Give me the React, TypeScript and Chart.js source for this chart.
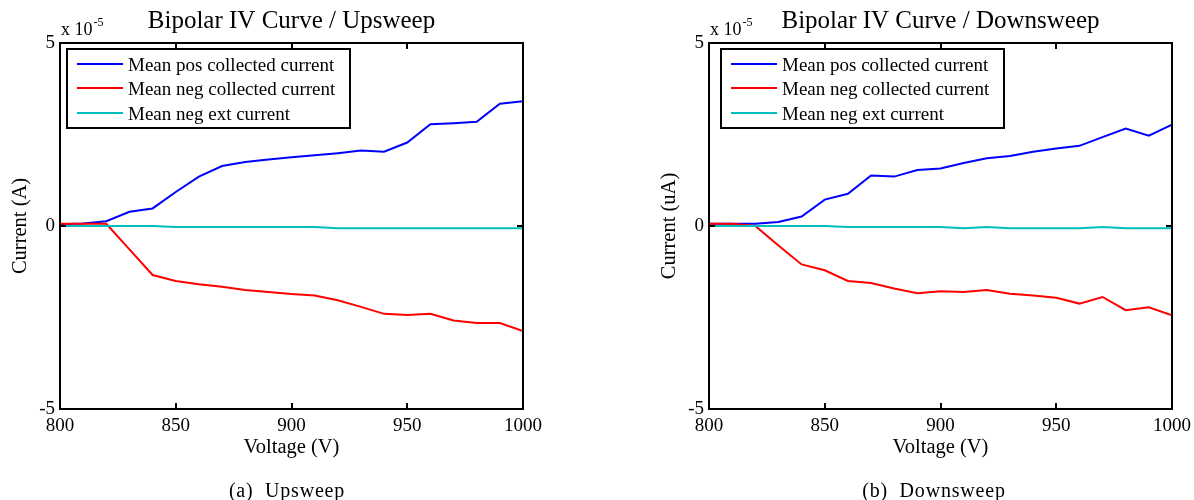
import React, { useEffect, useRef } from 'react';
import { Chart, registerables } from 'chart.js';

Chart.register(...registerables);

// Voltage sweep (V)
const voltages = [800, 810, 820, 830, 840, 850, 860, 870, 880, 890, 900, 910, 920, 930, 940, 950, 960, 970, 980, 990, 1000];

// Currents in units of 1e-5 A (axis multiplier "x 10^-5")
const upPos = [0.05, 0.07, 0.13, 0.39, 0.48, 0.93, 1.35, 1.64, 1.75, 1.82, 1.88, 1.93, 1.99, 2.06, 2.03, 2.28, 2.78, 2.81, 2.85, 3.34, 3.41];
const upNeg = [0.06, 0.06, 0.06, -0.64, -1.34, -1.5, -1.59, -1.66, -1.75, -1.8, -1.86, -1.9, -2.03, -2.21, -2.4, -2.43, -2.4, -2.58, -2.65, -2.65, -2.87];
const upExt = [0, 0, 0, 0, 0, -0.03, -0.03, -0.03, -0.03, -0.03, -0.03, -0.03, -0.06, -0.06, -0.06, -0.06, -0.06, -0.06, -0.06, -0.06, -0.06];

const downPos = [0.06, 0.06, 0.06, 0.11, 0.26, 0.72, 0.88, 1.38, 1.35, 1.53, 1.57, 1.72, 1.85, 1.91, 2.03, 2.12, 2.19, 2.43, 2.66, 2.47, 2.77];
const downNeg = [0.06, 0.06, 0.0, -0.53, -1.05, -1.21, -1.5, -1.56, -1.71, -1.84, -1.78, -1.8, -1.75, -1.85, -1.9, -1.96, -2.12, -1.94, -2.3, -2.22, -2.44];
const downExt = [0, 0, 0, 0, 0, 0, -0.03, -0.03, -0.03, -0.03, -0.03, -0.06, -0.03, -0.06, -0.06, -0.06, -0.06, -0.03, -0.06, -0.06, -0.06];

const xTicks = [800, 850, 900, 950, 1000];
const yTicks = [-5, 0, 5];
const seriesLabels = ['Mean pos collected current', 'Mean neg collected current', 'Mean neg ext current'];
const seriesColors = ['#0000FF', '#FF0000', '#00BFBF'];
const multiplierBase = 'x 10';
const multiplierExp = '-5';

const FONT = '"Liberation Serif", "Times New Roman", Times, serif';

type PanelSpec = {
  title: string;
  yTitle: string;
  pos: number[];
  neg: number[];
  ext: number[];
  padLeft: number;
  padRight: number;
  legendDx: number;
};

function decorPlugin(title: string, legendDx: number) {
  return {
    id: 'decor',
    afterDatasetsDraw(chart: any) {
      const { ctx, chartArea } = chart;
      const { left, right, top, bottom } = chartArea;
      const xs = chart.scales.x;
      const ys = chart.scales.y;
      ctx.save();
      // inner tick marks
      ctx.strokeStyle = '#000';
      ctx.lineWidth = 2;
      const tl = 6;
      ctx.beginPath();
      xs.ticks.forEach((t: any) => {
        const px = Math.round(xs.getPixelForValue(t.value));
        ctx.moveTo(px, bottom);
        ctx.lineTo(px, bottom - tl);
        ctx.moveTo(px, top);
        ctx.lineTo(px, top + tl);
      });
      ys.ticks.forEach((t: any) => {
        const py = Math.round(ys.getPixelForValue(t.value));
        ctx.moveTo(left, py);
        ctx.lineTo(left + tl, py);
        ctx.moveTo(right, py);
        ctx.lineTo(right - tl, py);
      });
      ctx.stroke();
      // axes box
      ctx.lineWidth = 2;
      ctx.strokeRect(left, top, right - left, bottom - top);

      // title
      ctx.fillStyle = '#000';
      ctx.font = `25px ${FONT}`;
      ctx.textAlign = 'center';
      ctx.textBaseline = 'alphabetic';
      ctx.fillText(title, (left + right) / 2, 28);

      // multiplier
      ctx.textAlign = 'left';
      ctx.font = `18px ${FONT}`;
      ctx.fillText(multiplierBase, left + 1, 35);
      const w = ctx.measureText(multiplierBase).width;
      ctx.font = `12px ${FONT}`;
      ctx.fillText(multiplierExp, left + 1 + w + 1, 26);

      // legend
      const bx = left + legendDx;
      const by = top + 6;
      const bw = 283;
      const bh = 79;
      ctx.fillStyle = '#fff';
      ctx.fillRect(bx, by, bw, bh);
      ctx.strokeStyle = '#000';
      ctx.lineWidth = 2;
      ctx.strokeRect(bx, by, bw, bh);
      const rows = [21, 45, 70];
      ctx.font = `19px ${FONT}`;
      chart.data.datasets.forEach((ds: any, i: number) => {
        const ry = top + rows[i];
        ctx.strokeStyle = ds.borderColor;
        ctx.lineWidth = 2;
        ctx.beginPath();
        ctx.moveTo(bx + 10, ry);
        ctx.lineTo(bx + 56, ry);
        ctx.stroke();
        ctx.fillStyle = '#000';
        ctx.textAlign = 'left';
        ctx.fillText(ds.label, bx + 61, ry + 6.5);
      });
      ctx.restore();
    },
  };
}

function Panel({ spec, left }: { spec: PanelSpec; left: number }) {
  const ref = useRef<HTMLCanvasElement | null>(null);
  useEffect(() => {
    if (!ref.current) return;
    const seriesData = [spec.pos, spec.neg, spec.ext];
    const chart = new Chart(ref.current, {
      type: 'line',
      data: {
        datasets: seriesData.map((arr, i) => ({
          label: seriesLabels[i],
          data: voltages.map((v, j) => ({ x: v, y: arr[j] })),
          borderColor: seriesColors[i],
          backgroundColor: seriesColors[i],
          borderWidth: 2,
          pointRadius: 0,
          tension: 0,
          fill: false,
          order: 3 - i,
        })),
      },
      options: {
        animation: false,
        responsive: false,
        maintainAspectRatio: false,
        events: [],
        layout: { padding: { left: spec.padLeft, right: spec.padRight, top: 43, bottom: 0 } },
        plugins: {
          legend: { display: false },
          title: { display: false },
          tooltip: { enabled: false },
        },
        scales: {
          x: {
            type: 'linear',
            min: 800,
            max: 1000,
            afterFit: (s: any) => {
              s.height = 91;
              s.paddingLeft = 0;
              s.paddingRight = 0;
            },
            afterBuildTicks: (s: any) => {
              s.ticks = xTicks.map((v) => ({ value: v }));
            },
            grid: { display: false, drawTicks: false },
            border: { display: false },
            ticks: {
              padding: 6,
              color: '#000',
              maxRotation: 0,
              autoSkip: false,
              font: { family: FONT, size: 19 },
              callback: (v: any) => String(v),
            },
            title: {
              display: true,
              text: 'Voltage (V)',
              color: '#000',
              font: { family: FONT, size: 20.5 },
              padding: { top: 0, bottom: 40 },
            },
          },
          y: {
            type: 'linear',
            min: -5,
            max: 5,
            afterFit: (s: any) => {
              s.width = 60;
              s.paddingTop = 0;
              s.paddingBottom = 0;
            },
            afterBuildTicks: (s: any) => {
              s.ticks = yTicks.map((v) => ({ value: v }));
            },
            grid: { display: false, drawTicks: false },
            border: { display: false },
            ticks: {
              padding: 5,
              color: '#000',
              font: { family: FONT, size: 19 },
              callback: (v: any) => String(v),
            },
            title: {
              display: true,
              text: spec.yTitle,
              color: '#000',
              font: { family: FONT, size: 20.5 },
              padding: { top: 8, bottom: 0 },
            },
          },
        },
      },
      plugins: [decorPlugin(spec.title, spec.legendDx)],
    } as any);
    return () => chart.destroy();
  }, [spec]);
  return (
    <canvas
      ref={ref}
      width={597}
      height={500}
      style={{ position: 'absolute', left, top: 0, width: 597, height: 500 }}
    />
  );
}

const upSpec: PanelSpec = {
  title: 'Bipolar IV Curve / Upsweep',
  yTitle: 'Current (A)',
  pos: upPos,
  neg: upNeg,
  ext: upExt,
  padLeft: 0,
  padRight: 74,
  legendDx: 7,
};

const downSpec: PanelSpec = {
  title: 'Bipolar IV Curve / Downsweep',
  yTitle: 'Current (uA)',
  pos: downPos,
  neg: downNeg,
  ext: downExt,
  padLeft: 52,
  padRight: 22,
  legendDx: 12,
};

const captionStyle: React.CSSProperties = {
  position: 'absolute',
  top: 478,
  width: 240,
  textAlign: 'center',
  fontFamily: FONT,
  fontSize: 20,
  lineHeight: '24px',
  letterSpacing: '0.8px',
  whiteSpace: 'pre',
  color: '#000',
};

export default function App() {
  return (
    <div style={{ position: 'absolute', left: 0, top: 0, width: 1194, height: 500, background: '#fff', overflow: 'hidden' }}>
      <Panel spec={upSpec} left={0} />
      <Panel spec={downSpec} left={597} />
      <div style={{ ...captionStyle, left: 287 - 120 }}>{'(a)  Upsweep'}</div>
      <div style={{ ...captionStyle, left: 934 - 120 }}>{'(b)  Downsweep'}</div>
    </div>
  );
}
